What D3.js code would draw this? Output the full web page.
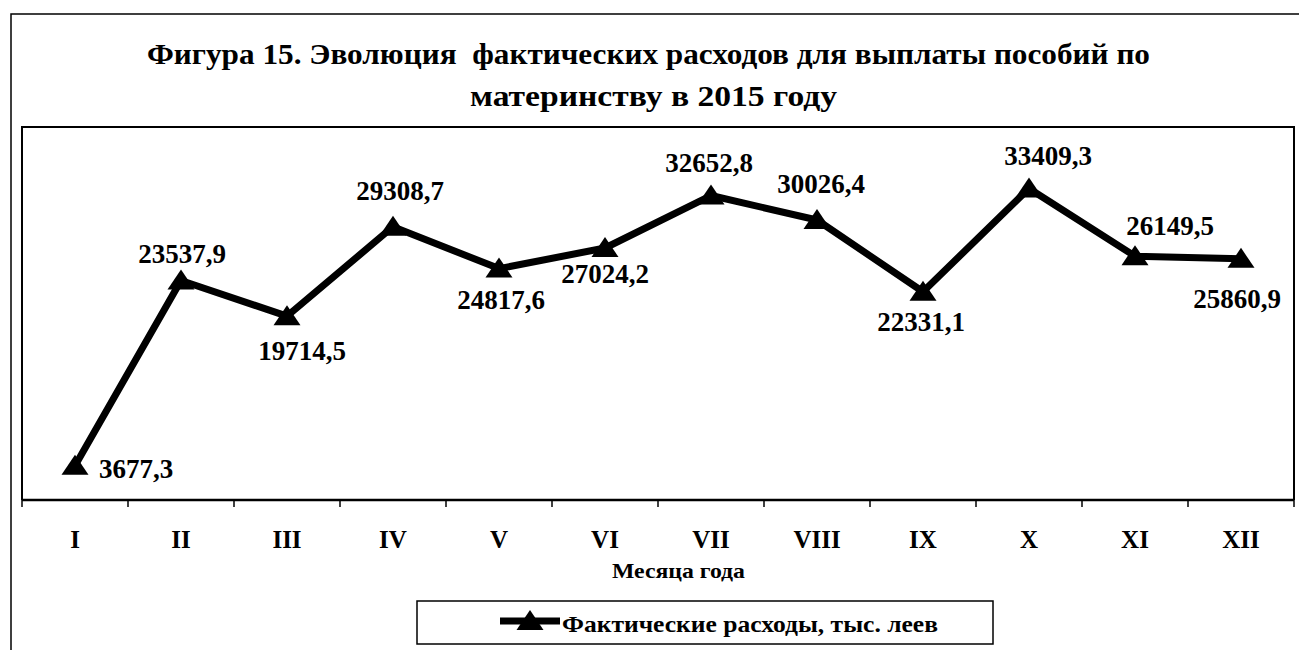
<html lang="ru">
<head>
<meta charset="UTF-8">
<title>Фигура 15</title>
<style>
  body { margin: 0; background: #fff; }
  svg text { font-family: "Liberation Serif", "Times New Roman", serif; fill: #000; }
</style>
</head>
<body>
<script src="https://cdnjs.cloudflare.com/ajax/libs/d3/7.8.5/d3.min.js"></script>
<script>
  // данные
  let months = ["I", "II", "III", "IV", "V", "VI", "VII", "VIII", "IX", "X", "XI", "XII"]
  let values = [3677.3, 23537.9, 19714.5, 29308.7, 24817.6, 27024.2,
                32652.8, 30026.4, 22331.1, 33409.3, 26149.5, 25860.9]
  let titleLines = ["Фигура 15. Эволюция  фактических расходов для выплаты пособий по",
                    "материнству в 2015 году"]
  let xTitle = "Месяца года"
  let seriesName = "Фактические расходы, тыс. леев"

  let width = 1299
  let height = 650
  let plot = {left: 22, right: 1294, top: 127, bottom: 500}

  let svg = d3.select("body").append("svg")
              .attr("width", width)
              .attr("height", height)

  // внешняя рамка
  svg.append("rect")
     .attr("x", 11).attr("y", 14)
     .attr("width", 1300).attr("height", 650)
     .attr("fill", "none").attr("stroke", "#000").attr("stroke-width", 1.5)

  // заголовок (скан растянут по горизонтали, поэтому textLength)
  let titleWidths = [1003, 367]
  svg.selectAll("text.title")
     .data(titleLines)
     .enter().append("text")
     .attr("class", "title")
     .attr("x", (d, i) => i == 0 ? 147 : 470)
     .attr("y", (d, i) => 64 + i * 42)
     .attr("textLength", (d, i) => titleWidths[i])
     .attr("lengthAdjust", "spacingAndGlyphs")
     .style("white-space", "pre")
     .style("font-weight", "bold")
     .style("font-size", "30px")
     .text(d => d)

  let x = d3.scaleBand().domain(months).range([plot.left, plot.right])
  let y = d3.scaleLinear().domain([0, 40000]).range([plot.bottom, plot.top])

  // рамка области построения
  svg.append("path")
     .attr("d", `M${plot.left},${plot.bottom}V${plot.top}H${plot.right}V${plot.bottom}`)
     .attr("fill", "none").attr("stroke", "#000").attr("stroke-width", 2)

  // ось X
  let tickPos = months.map(m => x(m)).concat([plot.right])
  let xAxis = svg.append("g")
  xAxis.append("line")
       .attr("x1", plot.left).attr("x2", plot.right)
       .attr("y1", plot.bottom).attr("y2", plot.bottom)
       .attr("stroke", "#000").attr("stroke-width", 2.5)
  xAxis.selectAll("line.tick")
       .data(tickPos)
       .enter().append("line")
       .attr("class", "tick")
       .attr("x1", d => d).attr("x2", d => d)
       .attr("y1", plot.bottom).attr("y2", plot.bottom + 7)
       .attr("stroke", "#000").attr("stroke-width", 1.5)
  xAxis.selectAll("text")
       .data(months)
       .enter().append("text")
       .attr("x", d => x(d) + x.bandwidth() / 2)
       .attr("y", 548)
       .attr("text-anchor", "middle")
       .style("font-weight", "bold")
       .style("font-size", "25px")
       .text(d => d)

  svg.append("text")
     .attr("x", 612).attr("y", 578)
     .attr("textLength", 133)
     .attr("lengthAdjust", "spacingAndGlyphs")
     .style("font-weight", "bold")
     .style("font-size", "22px")
     .text(xTitle)

  // линия ряда
  let cx = (d, i) => x(months[i]) + x.bandwidth() / 2
  let line = d3.line()
               .x(cx)
               .y(d => y(d))

  svg.append("path")
     .datum(values)
     .attr("d", line)
     .attr("fill", "none")
     .attr("stroke", "#000")
     .attr("stroke-width", 7)
     .attr("stroke-linejoin", "round")

  let tri = (w, h) => `M0,${-h * 0.55}L${w / 2},${h * 0.45}L${-w / 2},${h * 0.45}Z`

  svg.selectAll("path.marker")
     .data(values)
     .enter().append("path")
     .attr("class", "marker")
     .attr("transform", (d, i) => `translate(${cx(d, i)},${y(d)})`)
     .attr("d", tri(27, 20))
     .attr("fill", "#000")

  // подписи данных
  let fmt = d3.formatLocale({decimal: ",", thousands: "", grouping: [3]}).format(".1f")
  let labelPlace = [[24, 12, "start"], [1, -18, "middle"], [15, 44, "middle"], [7, -27, "middle"],
                    [2, 40, "middle"], [0, 35, "middle"], [-2, -24, "middle"], [4, -27, "middle"],
                    [-2, 39, "middle"], [19, -23, "middle"], [35, -21, "middle"], [-4, 49, "middle"]]

  svg.selectAll("text.label")
     .data(values)
     .enter().append("text")
     .attr("class", "label")
     .attr("x", (d, i) => cx(d, i) + labelPlace[i][0])
     .attr("y", (d, i) => y(d) + labelPlace[i][1])
     .attr("text-anchor", (d, i) => labelPlace[i][2])
     .style("font-size", "27px")
     .style("font-weight", "bold")
     .text(d => fmt(d))

  // легенда
  let lg = svg.append("g")
  lg.append("rect")
    .attr("x", 417).attr("y", 601)
    .attr("width", 576).attr("height", 43)
    .attr("fill", "#fff").attr("stroke", "#000").attr("stroke-width", 1.5)
  lg.append("line")
    .attr("x1", 500).attr("x2", 560).attr("y1", 621).attr("y2", 621)
    .attr("stroke", "#000").attr("stroke-width", 7)
  lg.append("path")
    .attr("transform", "translate(530,621)")
    .attr("d", tri(27, 20))
    .attr("fill", "#000")
  lg.append("text")
    .attr("x", 562).attr("y", 632)
    .attr("textLength", 376)
    .attr("lengthAdjust", "spacingAndGlyphs")
    .style("font-weight", "bold")
    .style("font-size", "23px")
    .text(seriesName)
</script>
</body>
</html>
